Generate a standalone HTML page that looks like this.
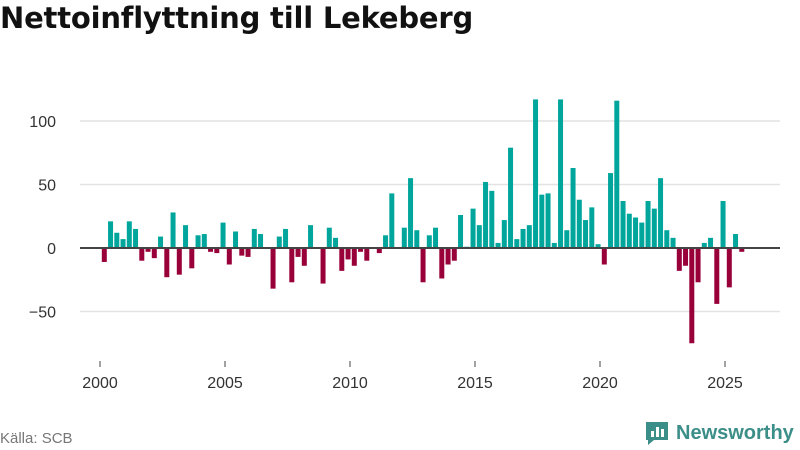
<!DOCTYPE html>
<html><head><meta charset="utf-8">
<style>
body{margin:0;width:800px;height:450px;background:#fff;font-family:"Liberation Sans","DejaVu Sans",sans-serif;overflow:hidden;position:relative}
h1{position:absolute;left:0;top:1px;margin:0;font-family:"DejaVu Sans",sans-serif;font-size:29px;font-weight:bold;color:#111;letter-spacing:-0.2px}
.src{position:absolute;left:0;top:430px;font-size:15px;color:#777}
.logo{position:absolute;left:644px;top:420px;font-size:20px;font-weight:bold;color:#3c8e88;display:flex;align-items:center}
</style></head><body>
<h1>Nettoinflyttning till Lekeberg</h1>
<svg id="chart" width="800" height="450" style="position:absolute;left:0;top:0"></svg>
<div class="src">Källa: SCB</div>
<div class="logo"><svg width="26" height="26" viewBox="0 0 26 26"><path d="M2 2h22v18H10l-6 5v-5H2z" fill="#3c8e88"/><rect x="7" y="11" width="3" height="6" fill="#fff"/><rect x="12" y="7" width="3" height="10" fill="#fff"/><rect x="17" y="9" width="3" height="8" fill="#fff"/></svg><span style="margin-left:6px">Newsworthy</span></div>
<script>
const startYear = 2000;
const values = [-11,21,12,7, 21,15,-10,-3, -8,9,-23,28, -21,18,-16,10, 11,-3,-4,20, -13,13,-6,-7, 15,11,0,-32, 9,15,-27,-7, -14,18,0,-28, 16,8,-18,-9, -14,-3,-10,0, -4,10,43,0, 16,55,14,-27, 10,16,-24,-13, -10,26,1,31, 18,52,45,4, 22,79,7,15, 18,117,42,43, 4,117,14,63, 38,22,32,3, -13,59,116,37, 27,24,20,37, 31,55,14,8, -18,-14,-75,-27, 4,8,-44,37, -31,11,-3];
const yTicks = [-50,0,50,100];
const xTicks = [2000,2005,2010,2015,2020,2025];
const svg = document.getElementById('chart');
const NS = 'http://www.w3.org/2000/svg';
const xs = t => 100 + (t - 2000) * 25;
const ys = v => 248 - v * 1.27;
function mk(tag, attrs){const e=document.createElementNS(NS,tag);for(const k in attrs)e.setAttribute(k,attrs[k]);svg.appendChild(e);return e;}
yTicks.forEach(v=>{
  if(v!==0){const g=mk('line',{x1:80,x2:780,y1:ys(v),y2:ys(v),stroke:'#e2e2e2','stroke-width':1.5});
  
  }
  const t=mk('text',{x:56,y:ys(v)+6,'text-anchor':'end','font-size':16,fill:'#333','font-family':'Liberation Sans, sans-serif'});
  t.textContent = v===-50?'−50':String(v);
  
  
});
xTicks.forEach(y=>{
  const l=mk('line',{x1:xs(y),x2:xs(y),y1:361,y2:367,stroke:'#444','stroke-width':1});
  
  
  const t=mk('text',{x:xs(y),y:388,'text-anchor':'middle','font-size':16,fill:'#333','font-family':'Liberation Sans, sans-serif'});
  t.textContent=String(y);
  
  
});
values.forEach((v,i)=>{
  const t = startYear + i*0.25;
  const x = xs(t)+1.8;
  const y0=ys(0), y1=ys(v);
  const r=mk('rect',{x:x,y:Math.min(y0,y1),width:5,height:Math.abs(y1-y0),fill:v>=0?'#00a69c':'#99003a'});
  
  
});
const z=mk('line',{x1:80,x2:780,y1:ys(0),y2:ys(0),stroke:'#444','stroke-width':2});


</script>
</body></html>
